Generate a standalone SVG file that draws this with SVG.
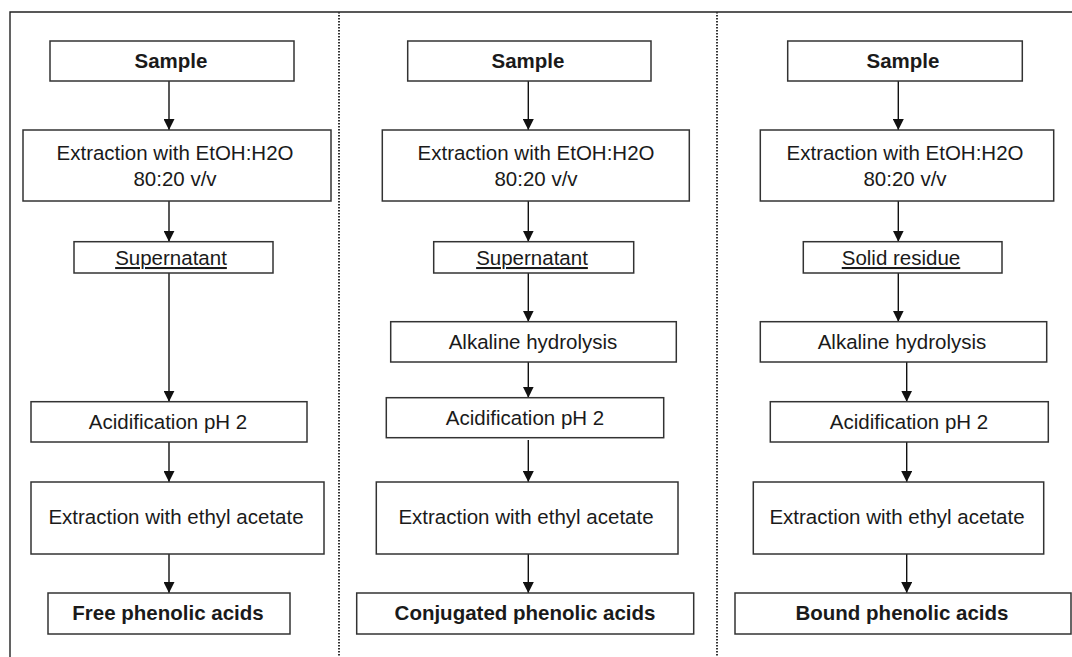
<svg xmlns="http://www.w3.org/2000/svg" width="1072" height="657" viewBox="0 0 1072 657">
<defs>
<style>
.box{fill:#fff;stroke:#333;stroke-width:1.5}
.t{font-family:"Liberation Sans",Arial,sans-serif;font-size:20.5px;fill:#1a1a1a;text-anchor:middle}
.b{font-weight:bold}
.u{text-decoration:underline}
.c{stroke:#111;stroke-width:1.4;fill:none;marker-end:url(#ah)}
.sep{stroke:#333;stroke-width:2;stroke-dasharray:1.6 1.4;fill:none}
.frame{stroke:#222;stroke-width:1.4;fill:none}
</style>
<marker id="ah" markerUnits="userSpaceOnUse" markerWidth="11" markerHeight="11" viewBox="0 0 11 11" refX="11" refY="5.5" orient="auto">
<path d="M0,0 L11,5.5 L0,11 z" fill="#111"/>
</marker>
</defs>
<rect width="1072" height="657" fill="#fff"/>
<g id="frame">
<path class="frame" d="M1072,12 H10 V657"/>
<path class="sep" d="M339,12 V657"/>
<path class="sep" d="M717,12 V657"/>
</g>
<g id="connectors">
<path class="c" d="M169,81 V130"/>
<path class="c" d="M169,201 V241.7"/>
<path class="c" d="M169,273 V401.7"/>
<path class="c" d="M169,442 V482"/>
<path class="c" d="M169,554 V593"/>
<path class="c" d="M528.3,81 V130"/>
<path class="c" d="M528.3,201 V241.7"/>
<path class="c" d="M528.3,273 V321.7"/>
<path class="c" d="M528.3,362 V397.7"/>
<path class="c" d="M528.3,440 V482"/>
<path class="c" d="M528.3,554 V593"/>
<path class="c" d="M898.3,81 V130"/>
<path class="c" d="M898.3,201 V241.7"/>
<path class="c" d="M898.3,273 V321.7"/>
<path class="c" d="M906.7,362 V401.7"/>
<path class="c" d="M906.7,442 V482"/>
<path class="c" d="M906.7,554 V593"/>
</g>
<g id="c1-sample"><rect class="box" x="50" y="41" width="244" height="40"/><text class="t b" x="171" y="68">Sample</text></g>
<g id="c1-extr"><rect class="box" x="23" y="130" width="308" height="71"/><text class="t" x="175" y="160">Extraction with EtOH:H2O</text><text class="t" x="175" y="186">80:20 v/v</text></g>
<g id="c1-super"><rect class="box" x="74" y="241.7" width="199" height="31.3"/><text class="t u" x="171" y="265">Supernatant</text></g>
<g id="c1-acid"><rect class="box" x="31" y="401.7" width="276" height="40.3"/><text class="t" x="168" y="428.5">Acidification pH 2</text></g>
<g id="c1-ethyl"><rect class="box" x="31" y="482" width="293" height="72"/><text class="t" x="176" y="523.5">Extraction with ethyl acetate</text></g>
<g id="c1-free"><rect class="box" x="48" y="593" width="242" height="41"/><text class="t b" x="168" y="619.5">Free phenolic acids</text></g>

<g id="c2-sample"><rect class="box" x="407.7" y="41" width="243.3" height="40"/><text class="t b" x="528" y="68">Sample</text></g>
<g id="c2-extr"><rect class="box" x="382.3" y="130" width="307" height="71"/><text class="t" x="536" y="160">Extraction with EtOH:H2O</text><text class="t" x="536" y="186">80:20 v/v</text></g>
<g id="c2-super"><rect class="box" x="433.7" y="241.7" width="200" height="31.3"/><text class="t u" x="532" y="265">Supernatant</text></g>
<g id="c2-alk"><rect class="box" x="390.7" y="321.7" width="285.6" height="40.3"/><text class="t" x="533" y="348.5">Alkaline hydrolysis</text></g>
<g id="c2-acid"><rect class="box" x="386.3" y="397.7" width="277.4" height="40"/><text class="t" x="525" y="424.5">Acidification pH 2</text></g>
<g id="c2-ethyl"><rect class="box" x="376.3" y="482" width="301.7" height="72"/><text class="t" x="526" y="523.5">Extraction with ethyl acetate</text></g>
<g id="c2-conj"><rect class="box" x="356.7" y="593" width="337" height="41"/><text class="t b" x="525" y="619.5">Conjugated phenolic acids</text></g>

<g id="c3-sample"><rect class="box" x="787.7" y="41" width="234.6" height="40"/><text class="t b" x="903" y="68">Sample</text></g>
<g id="c3-extr"><rect class="box" x="760.3" y="130" width="293.4" height="71"/><text class="t" x="905" y="160">Extraction with EtOH:H2O</text><text class="t" x="905" y="186">80:20 v/v</text></g>
<g id="c3-solid"><rect class="box" x="803.3" y="241.7" width="198.7" height="31.3"/><text class="t u" x="901" y="265">Solid residue</text></g>
<g id="c3-alk"><rect class="box" x="760.3" y="321.7" width="286.4" height="40.3"/><text class="t" x="902" y="348.5">Alkaline hydrolysis</text></g>
<g id="c3-acid"><rect class="box" x="770.3" y="401.7" width="278" height="40.3"/><text class="t" x="909" y="428.5">Acidification pH 2</text></g>
<g id="c3-ethyl"><rect class="box" x="753.3" y="482" width="290.4" height="72"/><text class="t" x="897" y="523.5">Extraction with ethyl acetate</text></g>
<g id="c3-bound"><rect class="box" x="735" y="593" width="336" height="41"/><text class="t b" x="902" y="619.5">Bound phenolic acids</text></g>
</svg>
